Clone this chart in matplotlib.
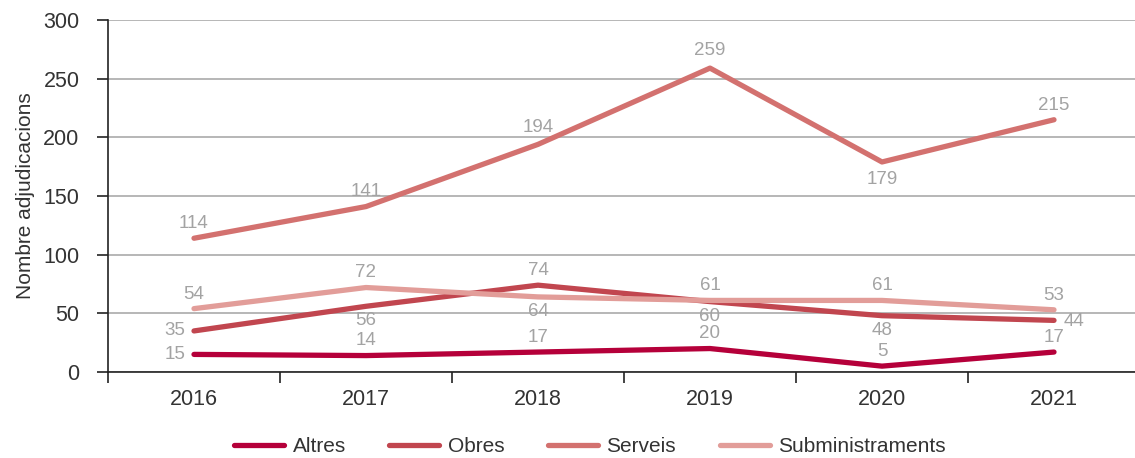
import numpy as np
import matplotlib
matplotlib.use("Agg")
import matplotlib.pyplot as plt

# values
years = ["2016", "2017", "2018", "2019", "2020", "2021"]
altres = [15, 14, 17, 20, 5, 17]
obres = [35, 56, 74, 60, 48, 44]
serveis = [114, 141, 194, 259, 179, 215]
subministraments = [54, 72, 64, 61, 61, 53]

series = [
    ("Altres", altres, "#b5003a"),
    ("Obres", obres, "#c1464f"),
    ("Serveis", serveis, "#d3716f"),
    ("Subministraments", subministraments, "#e29d99"),
]

# where each value label sits relative to its point
# a/b = above/below, A/B = a bit further, l = left, r = right
label_pos = {
    "Altres": ["l", "a", "a", "a", "a", "a"],
    "Obres": ["l", "b", "a", "b", "b", "r"],
    "Serveis": ["a", "a", "A", "A", "B", "a"],
    "Subministraments": ["a", "a", "b", "a", "a", "a"],
}
offsets = {
    "a": ((0, 10.5), "center", "center"),
    "A": ((0, 12.5), "center", "center"),
    "b": ((0, -10.5), "center", "center"),
    "B": ((0, -12.5), "center", "center"),
    "l": ((-6, 0), "right", "center"),
    "r": ((7, -1), "left", "center"),
}

plt.rcParams["font.family"] = ["Liberation Sans", "DejaVu Sans"]

fig = plt.figure(figsize=(11.35, 4.58), dpi=100)
ax = fig.add_axes([108 / 1135, 86 / 458, 1032 / 1135, 352 / 458])

x = np.arange(len(years))
for name, vals, color in series:
    ax.plot(x, vals, color=color, lw=3.8, label=name,
            solid_capstyle="round", solid_joinstyle="round", zorder=3)
    for i, v in enumerate(vals):
        off, ha, va = offsets[label_pos[name][i]]
        ax.annotate(str(v), (x[i], v), xytext=off, textcoords="offset points",
                    ha=ha, va=va, fontsize=13.5, color="#a3a3a3", zorder=4)

ax.set_xlim(-0.5, len(years) - 0.5)
ax.set_ylim(0, 300)
ax.set_yticks(np.arange(0, 301, 50))
ax.set_xticks(x)
ax.set_xticklabels(years)
ax.set_xticks(np.arange(-0.5, len(years)), minor=True)
ax.tick_params(axis="x", which="major", length=0, pad=12, labelsize=15.5, labelcolor="#333333")
ax.tick_params(axis="x", which="minor", length=8, width=1.2, color="#222222")
ax.tick_params(axis="y", length=8, width=1.2, color="#222222", pad=12.5,
               labelsize=15.5, labelcolor="#333333")
ax.grid(axis="y", color="#aaaaaa", lw=1.2, zorder=0)
ax.set_axisbelow(True)
for s in ("top", "right"):
    ax.spines[s].set_visible(False)
for s in ("left", "bottom"):
    ax.spines[s].set_color("#222222")
    ax.spines[s].set_linewidth(1.2)
ax.set_ylabel("Nombre adjudicacions", fontsize=15, color="#333333", labelpad=6)

fig.legend(loc="center", bbox_to_anchor=(590 / 1135, 11 / 458), ncol=4, frameon=False,
           fontsize=15, handlelength=2.4, handletextpad=0.4, columnspacing=2.1,
           labelcolor="#333333")

fig.savefig("out.png", dpi=100)
